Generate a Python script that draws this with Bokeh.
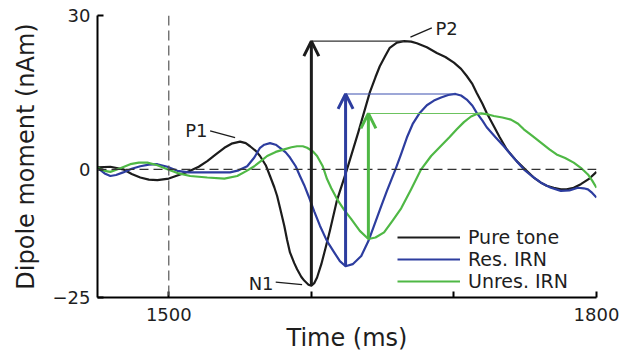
import numpy as np
from bokeh.plotting import figure
from bokeh.models import FixedTicker, Span, Arrow, OpenHead
from bokeh.core.properties import value
from bokeh.embed import file_html
from bokeh.resources import INLINE

# ---------------- data ----------------
t_pure = [1450, 1459, 1468, 1474, 1480, 1486, 1492, 1500, 1508, 1515, 1521, 1527, 1533, 1539,
          1544, 1550, 1554, 1557, 1561, 1564, 1568, 1571, 1574, 1576, 1578, 1581, 1583, 1585,
          1588, 1590, 1593, 1595, 1598, 1600, 1602, 1604, 1607, 1610, 1613, 1618, 1625, 1633,
          1641, 1645, 1648, 1652, 1655, 1660, 1665, 1670, 1674, 1681, 1688, 1694, 1700, 1705,
          1709, 1713, 1716, 1720, 1723, 1728, 1732, 1737, 1744, 1751, 1756, 1761, 1765, 1770,
          1775, 1779, 1784, 1789, 1795, 1800]
v_pure = [0.4, 0.5, 0.0, -0.9, -1.6, -2.0, -2.1, -1.8, -1.0, -0.3, 0.5, 1.6, 2.9, 4.2,
          5.0, 5.4, 5.1, 4.5, 3.6, 2.6, 0.8, -1.3, -3.5, -5.2, -7.5, -11.0, -13.8, -16.2,
          -18.3, -19.5, -21.0, -21.7, -22.5, -22.7, -22.2, -21.1, -18.5, -15.3, -12.0, -6.0, 0.0, 7.3,
          15.0, 18.0, 20.1, 22.2, 23.7, 24.7, 25.0, 24.9, 24.6, 23.8, 22.7, 21.9, 20.8, 19.6,
          18.2, 16.6, 14.9, 12.8, 11.0, 8.4, 6.3, 3.9, 1.6, -0.3, -1.6, -2.6, -3.2, -3.6,
          -3.9, -3.9, -3.6, -2.9, -1.8, -0.5]

t_res = [1450, 1455, 1459, 1463, 1468, 1474, 1480, 1486, 1492, 1499, 1506, 1514, 1522, 1532,
         1543, 1549, 1555, 1560, 1564, 1567, 1571, 1575, 1578, 1582, 1585, 1589, 1592, 1595,
         1598, 1602, 1606, 1611, 1616, 1620, 1624, 1629, 1635, 1640, 1644, 1649, 1653, 1656,
         1659, 1663, 1667, 1671, 1676, 1681, 1686, 1691, 1696, 1701, 1705, 1709, 1713, 1716,
         1720, 1723, 1729, 1735, 1742, 1749, 1755, 1761, 1768, 1775, 1781, 1787, 1791, 1794,
         1797, 1800]
v_res = [0.3, -0.8, -1.3, -1.1, -0.6, 0.1, 0.6, 0.9, 1.0, 0.5, -0.3, -0.6, -0.6, -0.6,
         -0.6, -0.2, 0.6, 2.3, 4.2, 4.8, 5.1, 4.8, 4.2, 3.3, 2.3, 0.6, -1.3, -3.1,
         -5.2, -8.2, -11.0, -14.0, -16.2, -17.9, -18.9, -18.5, -16.9, -14.0, -11.0, -7.2, -4.2, -2.1,
         0.0, 3.0, 6.2, 8.8, 11.0, 12.5, 13.4, 14.0, 14.5, 14.7, 14.4, 13.6, 12.4, 11.0,
         9.5, 8.2, 6.3, 4.5, 2.2, 0.0, -1.4, -2.6, -3.6, -4.2, -4.1, -3.6, -3.7, -3.9,
         -4.6, -5.5]

t_unres = [1450, 1455, 1459, 1466, 1473, 1479, 1485, 1492, 1499, 1507, 1515, 1527, 1539, 1548,
           1554, 1560, 1565, 1569, 1575, 1581, 1586, 1590, 1594, 1597, 1601, 1604, 1608, 1611,
           1614, 1618, 1623, 1628, 1634, 1640, 1645, 1651, 1657, 1663, 1670, 1677, 1684, 1691,
           1697, 1702, 1707, 1712, 1716, 1719, 1724, 1728, 1734, 1740, 1745, 1749, 1755, 1761,
           1767, 1772, 1778, 1784, 1789, 1794, 1797, 1800]
v_unres = [0.3, -0.3, -0.5, 0.2, 1.0, 1.3, 1.3, 0.8, 0.0, -0.8, -1.3, -1.6, -1.8, -1.3,
           -0.4, 0.6, 1.7, 2.6, 3.4, 3.9, 4.3, 4.5, 4.5, 4.2, 3.5, 2.6, 0.6, -1.9,
           -3.7, -5.8, -7.9, -9.7, -12.0, -13.6, -13.3, -12.3, -10.0, -7.6, -3.9, 0.0, 2.6, 4.6,
           6.3, 7.8, 9.2, 10.3, 10.8, 10.9, 10.7, 10.4, 10.1, 9.7, 8.9, 7.8, 6.5, 5.2,
           3.9, 2.9, 2.2, 1.3, 0.3, -1.0, -2.2, -3.6]

series_names = ["Pure tone", "Res. IRN", "Unres. IRN"]
x_ticks = [1500, 1600, 1700, 1800]
x_tick_labels = ["1500", "", "", "1800"]
y_ticks = [-25, 0, 30]
y_tick_labels = ["\u221225", "0", "30"]
stimulus_onset = 1500
peak_names = ["P1", "N1", "P2"]

# ---------------- style ----------------
FONT = "DejaVu Sans"
TXT = "#1e1e1e"
colors = ["#1c1c1c", "#2d3d9f", "#4fb845"]
thin_colors = ["#333333", "#3d50b0", "#6cc35f"]

p = figure(width=633, height=356, x_range=(1450, 1800), y_range=(-25, 30),
           output_backend="svg", toolbar_location=None,
           min_border_left=97, min_border_right=37, min_border_top=15, min_border_bottom=59,
           outline_line_color=None, background_fill_color="white")
p.grid.visible = False

for ax in (p.xaxis[0], p.yaxis[0]):
    ax.axis_line_width = 2
    ax.axis_line_color = "black"
    ax.major_tick_line_width = 2
    ax.major_tick_line_color = "black"
    ax.major_tick_in = 6
    ax.major_tick_out = 0
    ax.minor_tick_line_color = None
    ax.major_label_text_font = FONT
    ax.major_label_text_font_size = "18px"
    ax.major_label_text_color = TXT
    ax.axis_label_text_font = FONT
    ax.axis_label_text_font_size = "24px"
    ax.axis_label_text_font_style = "normal"
    ax.axis_label_text_color = TXT

p.xaxis.ticker = FixedTicker(ticks=x_ticks)
p.xaxis.major_label_overrides = dict(zip(x_ticks, x_tick_labels))
p.xaxis.axis_label = "Time (ms)"
p.xaxis.major_label_standoff = 10
p.xaxis.axis_label_standoff = 0

p.yaxis.ticker = FixedTicker(ticks=y_ticks)
p.yaxis.major_label_overrides = dict(zip(y_ticks, y_tick_labels))
p.yaxis.axis_label = "Dipole moment (nAm)"
p.yaxis.major_label_standoff = 7
p.yaxis.axis_label_standoff = 10

# reference lines
p.add_layout(Span(location=0, dimension="width", line_color="#333333",
                  line_width=1.2, line_dash="9 5"))
p.add_layout(Span(location=stimulus_onset, dimension="height", line_color="#555555",
                  line_width=1.2, line_dash="10 5"))

series = [(t_pure, v_pure), (t_res, v_res), (t_unres, v_unres)]

# curves
for (t, v), name, c in zip(series, series_names, colors):
    p.line(t, v, line_color=c, line_width=2.2, line_join="round", legend_label=name)

# N1-P2 amplitude arrows and peak-level lines
for (t, v), c, tc in zip(series, colors, thin_colors):
    t = np.asarray(t, dtype=float)
    v = np.asarray(v, dtype=float)
    i_min = int(np.argmin(v))
    i_max = int(np.argmax(v))
    p.segment(x0=[t[i_min]], y0=[v[i_max]], x1=[t[i_max]], y1=[v[i_max]],
              line_color=tc, line_width=1.1)
    p.add_layout(Arrow(end=OpenHead(size=15, line_width=3, line_color=c),
                       x_start=t[i_min], y_start=v[i_min],
                       x_end=t[i_min], y_end=v[i_max],
                       line_color=c, line_width=3))

# peak labels (P1, N1, P2) with leader lines, placed relative to the black curve peaks
tp = np.asarray(t_pure, dtype=float)
vp = np.asarray(v_pure, dtype=float)
early = tp < 1580
i_p1 = int(np.argmax(np.where(early, vp, -np.inf)))
i_n1 = int(np.argmin(vp))
i_p2 = int(np.argmax(vp))

p1 = (tp[i_p1], vp[i_p1])
n1 = (tp[i_n1], vp[i_n1])
p2 = (tp[i_p2], vp[i_p2])

lead_x0 = [p1[0] - 21, n1[0] - 25, p2[0] + 4.5]
lead_y0 = [p1[1] + 2.1, n1[1] + 0.7, p2[1] + 0.8]
lead_x1 = [p1[0] - 3.5, n1[0] - 6.5, p2[0] + 19.5]
lead_y1 = [p1[1] + 0.8, n1[1] + 0.2, p2[1] + 2.6]
p.segment(x0=lead_x0, y0=lead_y0, x1=lead_x1, y1=lead_y1, line_color="#1c1c1c", line_width=1.3)

p.text(x=[p1[0] - 38.5, n1[0] - 26.5, p2[0] + 22],
       y=[p1[1] + 2.1, n1[1] + 0.5, p2[1] + 2.5],
       text=peak_names,
       text_align=["left", "right", "left"], text_baseline="middle",
       text_font=value(FONT), text_font_size="18px", text_color=TXT)

# legend
leg = p.legend[0]
leg.location = (300, 5)
leg.background_fill_alpha = 0
leg.border_line_alpha = 0
leg.padding = 0
leg.margin = 0
leg.spacing = -1
leg.glyph_width = 63
leg.glyph_height = 20
leg.label_height = 20
leg.label_standoff = 8
leg.label_text_font = FONT
leg.label_text_font_size = "19px"
leg.label_text_color = TXT
leg.label_text_baseline = "middle"

open("out.html", "w").write(file_html(p, INLINE))
